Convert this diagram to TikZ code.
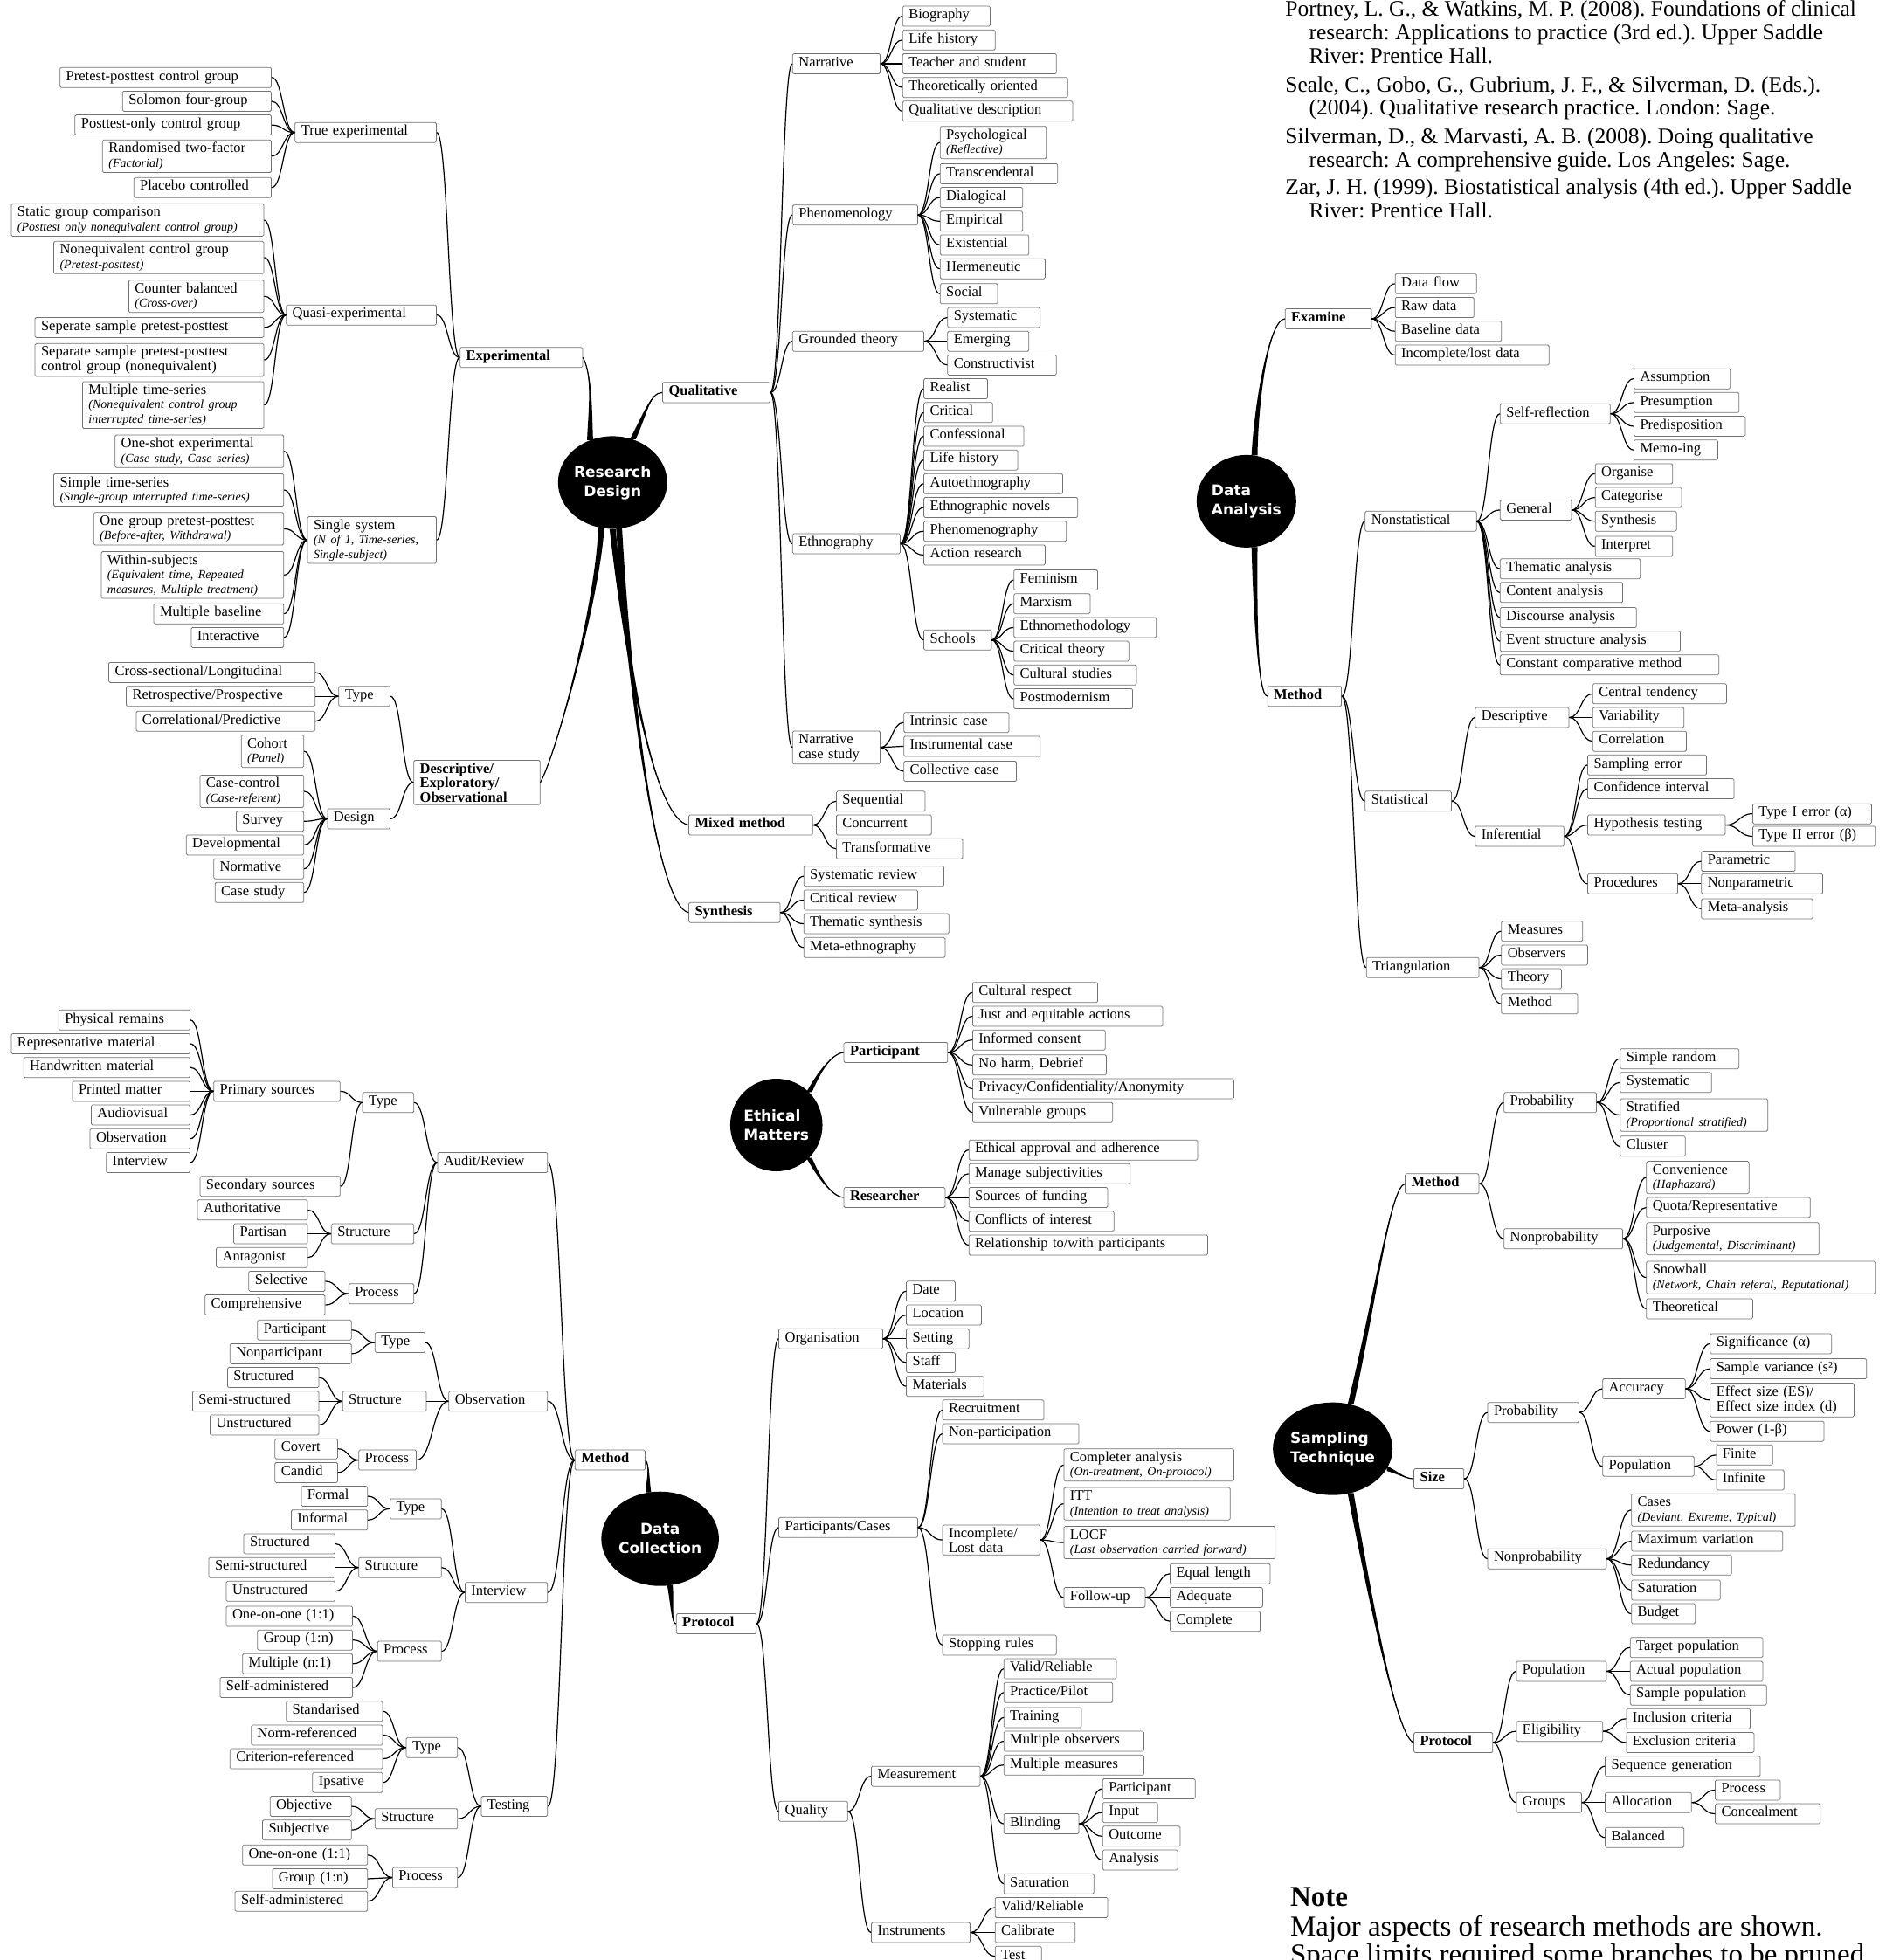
\documentclass[tikz,border=0pt]{standalone}
\usepackage{fontspec}
\setmainfont{Liberation Serif}
\newfontfamily\circfont{DejaVu Sans}
\usetikzlibrary{calc,shapes.geometric}
\frenchspacing
\newcommand\sub[1]{\\{\fontsize{14}{15}\selectfont\itshape #1}}
\newcommand\bx[6][]{\pgfmathsetmacro\tw{(#4-#3)*1.431-14}%
  \node[box,text width=\tw pt,#1] (#2) at ({(#3+#4)/2},#5) {#6};}
\newcommand\rk[2]{\foreach \ch in {#2}{\draw[conn] let \p1=(#1.east), \p2=(\ch.west) in
  (\p1) .. controls ({0.5*\x1+0.5*\x2},\y1) and ({0.5*\x1+0.5*\x2},\y2) .. (\p2);}}
\newcommand\lk[2]{\foreach \ch in {#2}{\draw[conn] let \p1=(#1.west), \p2=(\ch.east) in
  (\p1) .. controls ({0.5*\x1+0.5*\x2},\y1) and ({0.5*\x1+0.5*\x2},\y2) .. (\p2);}}
\newcommand\taper[5]{\fill ($(#1)-#5$) .. controls ($#2-0.6*#5$) and #3 .. (#4) .. controls #3 and ($#2+0.6*#5$) .. ($(#1)+#5$) -- cycle;
  \draw[conn] (#1) .. controls #2 and #3 .. (#4);}
\tikzset{
  x=1.431pt, y=-1.431pt,
  box/.style={draw=black!55, line width=0.75pt, rounded corners=1.5pt, fill=white,
    inner xsep=7pt, inner ysep=3pt, minimum height=23pt, align=left,
    font=\fontsize{16.5}{16.5}\selectfont, execute at begin node=\strut},
  bb/.style={font=\fontsize{16.5}{16.5}\selectfont\bfseries},
  conn/.style={line width=1.2pt, black},
  hub/.style={ellipse, fill=black, text=white, inner sep=0pt, align=center,
    font=\circfont\bfseries\fontsize{17}{22}\selectfont},
  reftxt/.style={anchor=base west, inner sep=0pt, font=\fontsize{25.5}{26}\selectfont},
  notetxt/.style={anchor=base west, inner sep=0pt, font=\fontsize{33}{33}\selectfont},
}
\begin{document}
\begin{tikzpicture}
\fill[white] (0,0) rectangle (1508,1568);
\useasboundingbox (0,0) rectangle (1508,1568);

% ---------- hubs ----------
\node[hub, minimum width=120pt, minimum height=106pt] (rd) at (490,386) {Research\\Design};
\node[hub, minimum width=114pt, minimum height=106pt, align=left] (da) at (997,401) {Data\\Analysis};
\node[hub, minimum width=97pt, minimum height=106pt, align=left] (em) at (621,900) {Ethical\\Matters};
\node[hub, minimum width=120pt, minimum height=108pt] (dc) at (528,1231) {Data\\Collection};
\node[hub, minimum width=132pt, minimum height=106pt, align=left] (st) at (1066,1159) {Sampling\\Technique};

% ---------- references ----------
\node[reftxt] (r1) at (1028,13) {Portney, L. G., \& Watkins, M. P. (2008). Foundations of clinical};
\node[reftxt] (r2) at (1047,32) {research: Applications to practice (3rd ed.). Upper Saddle};
\node[reftxt] (r3) at (1047,50.5) {River: Prentice Hall.};
\node[reftxt] (r4) at (1028,73.5) {Seale, C., Gobo, G., Gubrium, J. F., \& Silverman, D. (Eds.).};
\node[reftxt] (r5) at (1047,92) {(2004). Qualitative research practice. London: Sage.};
\node[reftxt] (r6) at (1028,115) {Silverman, D., \& Marvasti, A. B. (2008). Doing qualitative};
\node[reftxt] (r7) at (1047,133.5) {research: A comprehensive guide. Los Angeles: Sage.};
\node[reftxt] (r8) at (1028,155.5) {Zar, J. H. (1999). Biostatistical analysis (4th ed.). Upper Saddle};
\node[reftxt] (r9) at (1047,174) {River: Prentice Hall.};

\node[notetxt, font=\fontsize{33}{33}\selectfont\bfseries] (n1) at (1032,1525) {Note};
\node[notetxt] (n2) at (1032,1549) {Major aspects of research methods are shown.};
\node[notetxt] (n3) at (1032,1571) {Space limits required some branches to be pruned.};

% ---------- Research design: experimental ----------
\bx[bb]{exp}{368}{466}{286}{Experimental}
\bx{texp}{236}{349}{106}{True experimental}
\bx{qexp}{229}{349}{252}{Quasi-experimental}
\bx{sing}{246}{349}{432}{Single system\sub{(N of 1, Time-series,}\sub{Single-subject)}}
\bx{ppcg}{48}{217}{62}{Pretest-posttest control group}
\bx{sol}{98}{217}{81}{Solomon four-group}
\bx{pocg}{60}{217}{100}{Posttest-only control group}
\bx{rtf}{82}{217}{125}{Randomised two-factor\sub{(Factorial)}}
\bx{plac}{107}{217}{150}{Placebo controlled}
\bx{sgc}{9}{211}{176}{Static group comparison\sub{(Posttest only nonequivalent control group)}}
\bx{ncg}{43}{211}{206}{Nonequivalent control group\sub{(Pretest-posttest)}}
\bx{cbal}{103}{211}{237}{Counter balanced\sub{(Cross-over)}}
\bx{ssp}{28}{211}{262}{Seperate sample pretest-posttest}
\bx{sspc}{28}{211}{288}{Separate sample pretest-posttest\\control group (nonequivalent)}
\bx{mts}{66}{211}{324}{Multiple time-series\sub{(Nonequivalent control group}\sub{interrupted time-series)}}
\bx{ose}{92}{227}{361}{One-shot experimental\sub{(Case study, Case series)}}
\bx{sts}{43}{227}{392}{Simple time-series\sub{(Single-group interrupted time-series)}}
\bx{ogpp}{75}{227}{423}{One group pretest-posttest\sub{(Before-after, Withdrawal)}}
\bx{ws}{81}{227}{460}{Within-subjects\sub{(Equivalent time, Repeated}\sub{measures, Multiple treatment)}}
\bx{mb}{123}{227}{491}{Multiple baseline}
\bx{inter}{153}{227}{510}{Interactive}

% ---------- descriptive ----------
\bx[bb]{dexo}{331}{432}{626}{Descriptive/\\Exploratory/\\Observational}
\bx{dtype}{271}{312}{557}{Type}
\bx{ddes}{262}{312}{655}{Design}
\bx{csl}{87}{252}{538}{Cross-sectional/Longitudinal}
\bx{rp}{101}{252}{557}{Retrospective/Prospective}
\bx{cp}{109}{252}{577}{Correlational/Predictive}
\bx{coh}{193}{243}{601}{Cohort\sub{(Panel)}}
\bx{cc}{160}{243}{633}{Case-control\sub{(Case-referent)}}
\bx{surv}{189}{243}{657}{Survey}
\bx{dev}{149}{243}{676}{Developmental}
\bx{norm}{171}{243}{695}{Normative}
\bx{cstud}{172}{243}{714}{Case study}

% ---------- qualitative ----------
\bx[bb]{qual}{530}{616}{314}{Qualitative}
\bx{narr}{634}{704}{51}{Narrative}
\bx{phen}{634}{734}{172}{Phenomenology}
\bx{grnd}{634}{739}{273}{Grounded theory}
\bx{ethn}{634}{720}{435}{Ethnography}
\bx{ncs}{634}{704}{598}{Narrative\\case study}
\bx{bio}{722}{792}{13}{Biography}
\bx{lh1}{722}{796}{32}{Life history}
\bx{tas}{722}{845}{51}{Teacher and student}
\bx{tho}{722}{854}{70}{Theoretically oriented}
\bx{qd}{722}{858}{89}{Qualitative description}
\bx{psy}{752}{837}{114}{Psychological\sub{(Reflective)}}
\bx{trans}{752}{846}{139}{Transcendental}
\bx{dial}{752}{818}{158}{Dialogical}
\bx{emp}{752}{818}{177}{Empirical}
\bx{exi}{752}{823}{196}{Existential}
\bx{her}{752}{836}{215}{Hermeneutic}
\bx{soc}{752}{798}{235}{Social}
\bx{sys1}{758}{832}{254}{Systematic}
\bx{emer}{758}{823}{273}{Emerging}
\bx{cons}{758}{845}{292}{Constructivist}
\bx{real}{739}{790}{311}{Realist}
\bx{crit}{739}{794}{330}{Critical}
\bx{conf}{739}{819}{349}{Confessional}
\bx{lh2}{739}{814}{368}{Life history}
\bx{auto}{739}{850}{387}{Autoethnography}
\bx{enov}{739}{862}{406}{Ethnographic novels}
\bx{phgr}{739}{853}{425}{Phenomenography}
\bx{actr}{739}{836}{444}{Action research}
\bx{schl}{739}{793}{512}{Schools}
\bx{fem}{811}{878}{464}{Feminism}
\bx{marx}{811}{872}{483}{Marxism}
\bx{ethm}{811}{925}{502}{Ethnomethodology}
\bx{ctheo}{811}{903}{521}{Critical theory}
\bx{cult}{811}{909}{540}{Cultural studies}
\bx{post}{811}{906}{559}{Postmodernism}
\bx{intr}{723}{807}{578}{Intrinsic case}
\bx{inst}{723}{832}{597}{Instrumental case}
\bx{coll}{723}{813}{617}{Collective case}
\bx[bb]{mixed}{551}{650}{660}{Mixed method}
\bx{seq}{669}{740}{641}{Sequential}
\bx{conc}{669}{745}{660}{Concurrent}
\bx{trf}{669}{770}{679}{Transformative}
\bx[bb]{synth}{551}{624}{730}{Synthesis}
\bx{sysr}{643}{755}{701}{Systematic review}
\bx{critr}{643}{734}{720}{Critical review}
\bx{thsyn}{643}{759}{739}{Thematic synthesis}
\bx{meta}{643}{756}{758}{Meta-ethnography}

% ---------- data analysis ----------
\bx[bb]{exam}{1028}{1097}{255}{Examine}
\bx{dflow}{1116}{1181}{227}{Data flow}
\bx{raw}{1116}{1179}{246}{Raw data}
\bx{base}{1116}{1201}{265}{Baseline data}
\bx{incd}{1116}{1239}{284}{Incomplete/lost data}
\bx[bb]{dam}{1014}{1073}{557}{Method}
\bx{nonst}{1092}{1181}{417}{Nonstatistical}
\bx{stat}{1092}{1161}{641}{Statistical}
\bx{tri}{1093}{1183}{774}{Triangulation}
\bx{selfr}{1200}{1288}{331}{Self-reflection}
\bx{assu}{1307}{1384}{303}{Assumption}
\bx{presu}{1307}{1391}{322}{Presumption}
\bx{predi}{1307}{1396}{341}{Predisposition}
\bx{memo}{1307}{1374}{360}{Memo-ing}
\bx{gen}{1200}{1257}{408}{General}
\bx{org}{1276}{1338}{379}{Organise}
\bx{cat}{1276}{1345}{398}{Categorise}
\bx{syn}{1276}{1341}{417}{Synthesis}
\bx{interp}{1276}{1338}{437}{Interpret}
\bx{tha}{1200}{1312}{455}{Thematic analysis}
\bx{cona}{1200}{1298}{474}{Content analysis}
\bx{disa}{1200}{1309}{494}{Discourse analysis}
\bx{esa}{1200}{1344}{513}{Event structure analysis}
\bx{ccm}{1200}{1375}{532}{Constant comparative method}
\bx{desc}{1180}{1255}{574}{Descriptive}
\bx{ctend}{1274}{1381}{555}{Central tendency}
\bx{vari}{1274}{1347}{574}{Variability}
\bx{corr}{1274}{1349}{593}{Correlation}
\bx{infer}{1180}{1251}{669}{Inferential}
\bx{samperr}{1270}{1365}{612}{Sampling error}
\bx{confi}{1270}{1387}{631}{Confidence interval}
\bx{hypo}{1270}{1380}{660}{Hypothesis testing}
\bx{proc}{1270}{1342}{707}{Procedures}
\bx{t1}{1402}{1497}{651}{Type I error (α)}
\bx{t2}{1402}{1500}{669}{Type II error (β)}
\bx{param}{1361}{1436}{689}{Parametric}
\bx{nonpar}{1361}{1458}{707}{Nonparametric}
\bx{metaan}{1361}{1450}{727}{Meta-analysis}
\bx{meas}{1201}{1266}{745}{Measures}
\bx{obsv}{1201}{1270}{764}{Observers}
\bx{theo}{1201}{1249}{783}{Theory}
\bx{meth}{1201}{1262}{803}{Method}

% ---------- ethical ----------
\bx[bb]{epart}{675}{758}{842}{Participant}
\bx[bb]{eres}{675}{756}{958}{Researcher}
\bx{cr}{778}{878}{794}{Cultural respect}
\bx{jea}{778}{930}{813}{Just and equitable actions}
\bx{ic}{778}{884}{832}{Informed consent}
\bx{nh}{778}{885}{852}{No harm, Debrief}
\bx{pca}{778}{987}{871}{Privacy/Confidentiality/Anonymity}
\bx{vg}{778}{890}{890}{Vulnerable groups}
\bx{eaa}{775}{958}{920}{Ethical approval and adherence}
\bx{ms}{775}{904}{939}{Manage subjectivities}
\bx{sof}{775}{886}{958}{Sources of funding}
\bx{coi}{775}{891}{977}{Conflicts of interest}
\bx{rwp}{775}{966}{996}{Relationship to/with participants}

% ---------- data collection: method ----------
\bx[bb]{dcm}{460}{516}{1168}{Method}
\bx{aud}{350}{438}{930}{Audit/Review}
\bx{obs}{359}{438}{1121}{Observation}
\bx{intv}{372}{438}{1274}{Interview}
\bx{tst}{385}{438}{1445}{Testing}
\bx{atype}{290}{331}{882}{Type}
\bx{astr}{265}{331}{987}{Structure}
\bx{aproc}{279}{331}{1035}{Process}
\bx{prim}{171}{272}{873}{Primary sources}
\bx{sec}{160}{272}{949}{Secondary sources}
\bx{phys}{47}{152}{816}{Physical remains}
\bx{rep}{9}{152}{835}{Representative material}
\bx{hand}{19}{152}{854}{Handwritten material}
\bx{print}{58}{152}{873}{Printed matter}
\bx{av}{73}{152}{892}{Audiovisual}
\bx{pobs}{72}{152}{911}{Observation}
\bx{pint}{85}{152}{930}{Interview}
\bx{auth}{158}{246}{968}{Authoritative}
\bx{part}{187}{246}{987}{Partisan}
\bx{ant}{173}{246}{1006}{Antagonist}
\bx{sel}{199}{260}{1025}{Selective}
\bx{comp}{164}{260}{1044}{Comprehensive}
\bx{otype}{300}{340}{1074}{Type}
\bx{ostr}{274}{341}{1121}{Structure}
\bx{oproc}{287}{333}{1168}{Process}
\bx{opart}{206}{281}{1064}{Participant}
\bx{onpart}{184}{281}{1083}{Nonparticipant}
\bx{ostrd}{182}{255}{1102}{Structured}
\bx{osemi}{154}{255}{1121}{Semi-structured}
\bx{ounst}{168}{255}{1140}{Unstructured}
\bx{cov}{220}{270}{1159}{Covert}
\bx{cand}{220}{270}{1178}{Candid}
\bx{itype}{312}{353}{1207}{Type}
\bx{istr}{287}{353}{1254}{Structure}
\bx{iproc}{302}{353}{1321}{Process}
\bx{form}{241}{294}{1197}{Formal}
\bx{inform}{233}{294}{1216}{Informal}
\bx{istrd}{195}{268}{1235}{Structured}
\bx{isemi}{167}{268}{1254}{Semi-structured}
\bx{iunst}{181}{268}{1273}{Unstructured}
\bx{i11}{181}{282}{1293}{One-on-one (1:1)}
\bx{i1n}{206}{282}{1312}{Group (1:n)}
\bx{in1}{194}{282}{1331}{Multiple (n:1)}
\bx{iself}{176}{282}{1350}{Self-administered}
\bx{ttype}{325}{366}{1398}{Type}
\bx{tstr}{300}{366}{1455}{Structure}
\bx{tproc}{314}{366}{1502}{Process}
\bx{stand}{229}{306}{1369}{Standarised}
\bx{normr}{201}{306}{1388}{Norm-referenced}
\bx{critr2}{184}{306}{1407}{Criterion-referenced}
\bx{ips}{250}{306}{1426}{Ipsative}
\bx{objv}{216}{281}{1445}{Objective}
\bx{subj}{210}{281}{1464}{Subjective}
\bx{t11}{194}{294}{1484}{One-on-one (1:1)}
\bx{t1n}{218}{294}{1503}{Group (1:n)}
\bx{tself}{188}{294}{1521}{Self-administered}

% ---------- data collection: protocol ----------
\bx[bb]{dcprot}{541}{605}{1299}{Protocol}
\bx{org2}{623}{706}{1071}{Organisation}
\bx{pc}{623}{734}{1222}{Participants/Cases}
\bx{qual2}{623}{678}{1449}{Quality}
\bx{date}{725}{764}{1033}{Date}
\bx{loc}{725}{785}{1052}{Location}
\bx{sett}{725}{775}{1071}{Setting}
\bx{staff}{725}{764}{1090}{Staff}
\bx{mat}{725}{787}{1109}{Materials}
\bx{recr}{754}{835}{1128}{Recruitment}
\bx{nonpart}{754}{863}{1147}{Non-participation}
\bx{incl}{754}{832}{1232}{Incomplete/\\Lost data}
\bx{stop}{754}{845}{1316}{Stopping rules}
\bx{compa}{851}{987}{1172}{Completer analysis\sub{(On-treatment, On-protocol)}}
\bx{itt}{851}{984}{1203}{ITT\sub{(Intention to treat analysis)}}
\bx{locf}{851}{1020}{1234}{LOCF\sub{(Last observation carried forward)}}
\bx{fu}{851}{916}{1278}{Follow-up}
\bx{eql}{936}{1016}{1259}{Equal length}
\bx{adeq}{936}{1010}{1278}{Adequate}
\bx{compl}{936}{1008}{1297}{Complete}
\bx{meas2}{697}{784}{1421}{Measurement}
\bx{instr}{697}{776}{1546}{Instruments}
\bx{vr1}{803}{893}{1335}{Valid/Reliable}
\bx{pp}{803}{890}{1354}{Practice/Pilot}
\bx{train}{803}{865}{1374}{Training}
\bx{mo}{803}{915}{1393}{Multiple observers}
\bx{mm}{803}{915}{1412}{Multiple measures}
\bx{blind}{803}{863}{1459}{Blinding}
\bx{satur}{803}{875}{1507}{Saturation}
\bx{bpart}{882}{956}{1431}{Participant}
\bx{binp}{882}{926}{1450}{Input}
\bx{bout}{882}{944}{1469}{Outcome}
\bx{bana}{882}{942}{1488}{Analysis}
\bx{vr2}{796}{886}{1526}{Valid/Reliable}
\bx{calib}{796}{860}{1546}{Calibrate}
\bx{test}{796}{833}{1565}{Test}

% ---------- sampling technique ----------
\bx[bb]{stm}{1124}{1183}{947}{Method}
\bx{sprob}{1203}{1277}{882}{Probability}
\bx{snprob}{1203}{1298}{991}{Nonprobability}
\bx{srand}{1296}{1391}{847}{Simple random}
\bx{ssys}{1296}{1369}{866}{Systematic}
\bx{strat}{1296}{1414}{892}{Stratified\sub{(Proportional stratified)}}
\bx{clus}{1296}{1348}{917}{Cluster}
\bx{conv}{1317}{1399}{942}{Convenience\sub{(Haphazard)}}
\bx{quota}{1317}{1448}{966}{Quota/Representative}
\bx{purp}{1317}{1455}{991}{Purposive\sub{(Judgemental, Discriminant)}}
\bx{snow}{1317}{1500}{1022}{Snowball\sub{(Network, Chain referal, Reputational)}}
\bx{theor}{1317}{1402}{1047}{Theoretical}
\bx[bb]{size}{1131}{1171}{1183}{Size}
\bx{zprob}{1190}{1263}{1130}{Probability}
\bx{znprob}{1190}{1285}{1247}{Nonprobability}
\bx{acc}{1282}{1348}{1111}{Accuracy}
\bx{zpop}{1282}{1355}{1173}{Population}
\bx{sig}{1368}{1465}{1075}{Significance (α)}
\bx{svar}{1368}{1493}{1095}{Sample variance (s²)}
\bx{eff}{1368}{1483}{1120}{Effect size (ES)/\\Effect size index (d)}
\bx{pow}{1368}{1459}{1145}{Power (1-β)}
\bx{fin}{1373}{1418}{1164}{Finite}
\bx{inf}{1373}{1427}{1184}{Infinite}
\bx{cases}{1305}{1436}{1208}{Cases\sub{(Deviant, Extreme, Typical)}}
\bx{maxv}{1305}{1426}{1233}{Maximum variation}
\bx{redu}{1305}{1385}{1252}{Redundancy}
\bx{zsat}{1305}{1376}{1272}{Saturation}
\bx{budg}{1305}{1356}{1291}{Budget}
\bx[bb]{stprot}{1131}{1194}{1394}{Protocol}
\bx{ppop}{1213}{1285}{1337}{Population}
\bx{elig}{1213}{1282}{1385}{Eligibility}
\bx{grp}{1213}{1265}{1442}{Groups}
\bx{tpop}{1304}{1410}{1318}{Target population}
\bx{apop}{1304}{1410}{1337}{Actual population}
\bx{spop}{1304}{1413}{1356}{Sample population}
\bx{incc}{1301}{1400}{1375}{Inclusion criteria}
\bx{excc}{1301}{1403}{1394}{Exclusion criteria}
\bx{seqg}{1284}{1408}{1413}{Sequence generation}
\bx{alloc}{1284}{1353}{1442}{Allocation}
\bx{bal}{1284}{1347}{1470}{Balanced}
\bx{aproc2}{1372}{1424}{1432}{Process}
\bx{conceal}{1372}{1456}{1451}{Concealment}

% ---------- thick hub connectors ----------
\taper{rd.118}{(472,330)}{(474,300)}{exp.east}{(2.4,0)}
\taper{rd.65}{(516,332)}{(520,314)}{qual.west}{(2.4,0)}
\taper{rd.256}{(478,480)}{(446,600)}{dexo.east}{(2.4,0)}
\taper{rd.270}{(500,520)}{(522,655)}{mixed.west}{(2.4,0)}
\taper{rd.278}{(504,560)}{(526,725)}{synth.west}{(2.4,0)}
\taper{da.80}{(1005,320)}{(1015,256)}{exam.west}{(2.4,0)}
\taper{da.280}{(1004,490)}{(1006,556)}{dam.west}{(2.4,0)}
\taper{em.45}{(655,858)}{(665,843)}{epart.west}{(2.2,0)}
\taper{em.315}{(655,942)}{(665,957)}{eres.west}{(2.2,0)}
\taper{dc.104}{(518,1186)}{(520,1172)}{dcm.east}{(2.2,0)}
\taper{dc.282}{(538,1285)}{(537,1299)}{dcprot.west}{(2.2,0)}
\taper{st.68}{(1100,1040)}{(1112,950)}{stm.west}{(2.4,0)}
\taper{st.340}{(1118,1178)}{(1124,1183)}{size.west}{(0,2)}
\taper{st.292}{(1098,1290)}{(1118,1390)}{stprot.west}{(2.4,0)}

% ---------- connectors ----------
\lk{exp}{texp,qexp,sing}
\lk{texp}{ppcg,sol,pocg,rtf,plac}
\lk{qexp}{sgc,ncg,cbal,ssp,sspc,mts}
\lk{sing}{ose,sts,ogpp,ws,mb,inter}
\lk{dexo}{dtype,ddes}
\lk{dtype}{csl,rp,cp}
\lk{ddes}{coh,cc,surv,dev,norm,cstud}
\rk{qual}{narr,phen,grnd,ethn,ncs}
\rk{narr}{bio,lh1,tas,tho,qd}
\rk{phen}{psy,trans,dial,emp,exi,her,soc}
\rk{grnd}{sys1,emer,cons}
\rk{ethn}{real,crit,conf,lh2,auto,enov,phgr,actr,schl}
\rk{schl}{fem,marx,ethm,ctheo,cult,post}
\rk{ncs}{intr,inst,coll}
\rk{mixed}{seq,conc,trf}
\rk{synth}{sysr,critr,thsyn,meta}
\rk{exam}{dflow,raw,base,incd}
\rk{dam}{nonst,stat,tri}
\rk{nonst}{selfr,gen,tha,cona,disa,esa,ccm}
\rk{selfr}{assu,presu,predi,memo}
\rk{gen}{org,cat,syn,interp}
\rk{stat}{desc,infer}
\rk{desc}{ctend,vari,corr}
\rk{infer}{samperr,confi,hypo,proc}
\rk{hypo}{t1,t2}
\rk{proc}{param,nonpar,metaan}
\rk{tri}{meas,obsv,theo,meth}
\rk{epart}{cr,jea,ic,nh,pca,vg}
\rk{eres}{eaa,ms,sof,coi,rwp}
\lk{dcm}{aud,obs,intv,tst}
\lk{aud}{atype,astr,aproc}
\lk{atype}{prim,sec}
\lk{prim}{phys,rep,hand,print,av,pobs,pint}
\lk{astr}{auth,part,ant}
\lk{aproc}{sel,comp}
\lk{obs}{otype,ostr,oproc}
\lk{otype}{opart,onpart}
\lk{ostr}{ostrd,osemi,ounst}
\lk{oproc}{cov,cand}
\lk{intv}{itype,istr,iproc}
\lk{itype}{form,inform}
\lk{istr}{istrd,isemi,iunst}
\lk{iproc}{i11,i1n,in1,iself}
\lk{tst}{ttype,tstr,tproc}
\lk{ttype}{stand,normr,critr2,ips}
\lk{tstr}{objv,subj}
\lk{tproc}{t11,t1n,tself}
\rk{dcprot}{org2,pc,qual2}
\rk{org2}{date,loc,sett,staff,mat}
\rk{pc}{recr,nonpart,incl,stop}
\rk{incl}{compa,itt,locf,fu}
\rk{fu}{eql,adeq,compl}
\rk{qual2}{meas2,instr}
\rk{meas2}{vr1,pp,train,mo,mm,blind,satur}
\rk{blind}{bpart,binp,bout,bana}
\rk{instr}{vr2,calib,test}
\rk{stm}{sprob,snprob}
\rk{sprob}{srand,ssys,strat,clus}
\rk{snprob}{conv,quota,purp,snow,theor}
\rk{size}{zprob,znprob}
\rk{zprob}{acc,zpop}
\rk{acc}{sig,svar,eff,pow}
\rk{zpop}{fin,inf}
\rk{znprob}{cases,maxv,redu,zsat,budg}
\rk{stprot}{ppop,elig,grp}
\rk{ppop}{tpop,apop,spop}
\rk{elig}{incc,excc}
\rk{grp}{seqg,alloc,bal}
\rk{alloc}{aproc2,conceal}
\end{tikzpicture}
\end{document}
